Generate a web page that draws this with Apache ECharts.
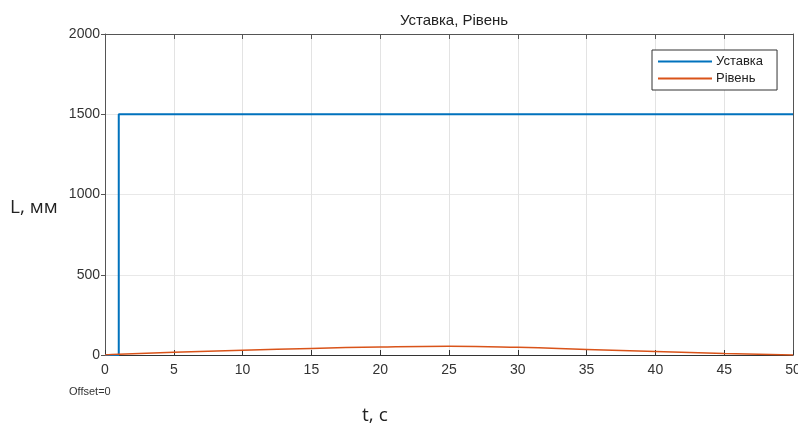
<!DOCTYPE html>
<html>
<head>
<meta charset="utf-8">
<script src="https://cdn.jsdelivr.net/npm/echarts@6/dist/echarts.min.js"></script>
<style>
html, body { margin: 0; padding: 0; background: #fff; }
#chart { width: 798px; height: 430px; }
</style>
</head>
<body>
<div id="chart"></div>
<script>
// setpoint (Уставка): step at t=1
var setpointT = [0, 1, 1, 50];
var setpointL = [0, 0, 1500, 1500];

// level (Рівень)
var levelT = [0, 1, 5, 10, 15, 20, 25, 30, 35, 40, 45, 50];
var levelL = [0, 5, 17, 30, 41, 50, 54, 48, 35, 22, 10, 0];

var xTicks = [0, 5, 10, 15, 20, 25, 30, 35, 40, 45, 50];
var yTicks = [0, 500, 1000, 1500, 2000];

function pairs(xs, ys){
	var out = [];
	for(var i = 0; i < xs.length; i++){
		out.push([xs[i], ys[i]]);
	}
	return out;
}

var myChart = echarts.init(document.getElementById('chart'));

var labelFont = 'Liberation Sans, Arial, sans-serif';

var option = {
	animation : false,
	backgroundColor : '#fff',
	title : {
		text : 'Уставка, Рівень',
		left : 449,
		textAlign : 'center',
		top : 8,
		textStyle : { fontSize : 15, fontWeight : 'normal', color : '#222', fontFamily : labelFont }
	},
	legend : {
		left : 652,
		top : 50,
		orient : 'vertical',
		padding : [5, 14, 5, 6],
		itemGap : 4,
		itemWidth : 54,
		itemHeight : 2,
		icon : 'rect',
		borderColor : '#333',
		borderWidth : 1,
		backgroundColor : '#fff',
		textStyle : { fontSize : 13, color : '#222', fontFamily : labelFont, padding : [0, 0, 0, -1] },
		data : ['Уставка', 'Рівень']
	},
	grid : { left : 105, right : 5, top : 34, bottom : 75, outerBoundsMode : 'none', containLabel : false },
	xAxis : [{
		type : 'value',
		min : 0, max : 50, interval : 5,
		axisLine : { onZero : false, lineStyle : { color : '#333', width : 1 } },
		axisTick : { inside : true, length : 5, lineStyle : { color : '#333' } },
		axisLabel : { fontSize : 14, color : '#333', margin : 8, fontFamily : labelFont, hideOverlap : false },
		splitLine : { show : true, lineStyle : { color : '#e3e3e3' } }
	}, {
		type : 'value',
		position : 'top',
		min : 0, max : 50, interval : 5,
		axisLine : { show : true, onZero : false, lineStyle : { color : '#555' } },
		axisTick : { inside : true, length : 5, lineStyle : { color : '#555' } },
		axisLabel : { show : false },
		splitLine : { show : false }
	}],
	yAxis : [{
		type : 'value',
		min : 0, max : 2000, interval : 500,
		axisLine : { show : true, onZero : false, lineStyle : { color : '#555' } },
		axisTick : { show : true, length : 4, lineStyle : { color : '#555' } },
		axisLabel : { fontSize : 14, color : '#333', margin : 5, fontFamily : labelFont, formatter : function(v){ return String(v); } },
		splitLine : { show : true, lineStyle : { color : '#e8e8e8' } }
	}, {
		type : 'value',
		position : 'right',
		min : 0, max : 2000, interval : 500,
		axisLine : { show : true, onZero : false, lineStyle : { color : '#555' } },
		axisTick : { show : false },
		axisLabel : { show : false },
		splitLine : { show : false }
	}],
	graphic : [
		{ type : 'text', left : 10, top : 198, style : { text : 'L, мм', fontSize : 19, fill : '#222', fontFamily : 'Open Sans, sans-serif' } },
		{ type : 'text', left : 362, top : 406, style : { text : 't, с', fontSize : 19, fill : '#222', fontFamily : 'Open Sans, sans-serif' } },
		{ type : 'text', left : 69, top : 386, style : { text : 'Offset=0', fontSize : 11, fill : '#333', fontFamily : labelFont } }
	],
	series : [{
		name : 'Уставка',
		type : 'line',
		showSymbol : false,
		color : '#0072BD',
		lineStyle : { width : 2 },
		data : pairs(setpointT, setpointL),
		z : 3
	}, {
		name : 'Рівень',
		type : 'line',
		showSymbol : false,
		smooth : true,
		color : '#D95319',
		lineStyle : { width : 1.5 },
		data : pairs(levelT, levelL),
		z : 4
	}]
};
myChart.setOption(option);
</script>
</body>
</html>
